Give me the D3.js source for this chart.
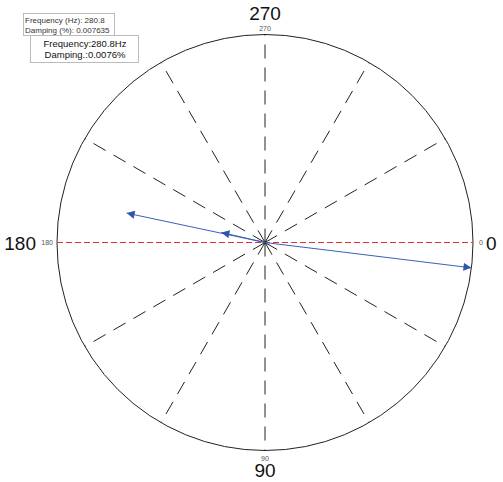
<!DOCTYPE html>
<html>
<head>
<meta charset="utf-8">
<script src="https://cdn.jsdelivr.net/npm/d3@7"></script>
<style>
  html, body { margin: 0; padding: 0; background: #fff; }
  svg { display: block; }
  text { font-family: "Liberation Sans", Arial, sans-serif; }
</style>
</head>
<body>
<svg id="chart" width="503" height="482"></svg>
<script>
// Mode shape vectors (angle in degrees, clockwise from 0 at the right; normalised magnitude)
const vectorAngles = [7, 192, 193];
const vectorMagnitudes = [1.0, 0.68, 0.215];

// Angular grid
const spokeAngles = [0, 30, 60, 90, 120, 150, 180, 210, 240, 270, 300, 330];
const axisLabels = ["0", "90", "180", "270"];
const axisLabelAngles = [0, 90, 180, 270];

// Mode annotations
const frequencyHz = 280.8;
const dampingPct = 0.007635;

const svg = d3.select("#chart");
const cx = 265, cy = 242.5, R = 208;

const rScale = d3.scaleLinear().domain([0, 1]).range([0, R]);
const toRad = d => d * Math.PI / 180;
const px = (a, m) => cx + rScale(m) * Math.cos(toRad(a));
const py = (a, m) => cy + rScale(m) * Math.sin(toRad(a));

// Outer circle
svg.append("circle")
  .attr("cx", cx).attr("cy", cy).attr("r", rScale(1))
  .attr("fill", "none").attr("stroke", "#222").attr("stroke-width", 1);

// Dashed spokes
svg.append("g").selectAll("line")
  .data(spokeAngles.filter(a => a !== 0 && a !== 180))
  .join("line")
  .attr("x1", cx).attr("y1", cy)
  .attr("x2", d => px(d, 1)).attr("y2", d => py(d, 1))
  .attr("stroke", "#222").attr("stroke-width", 1)
  .attr("stroke-dasharray", "14,9");

// Horizontal reference line (0 - 180)
svg.append("line")
  .attr("x1", px(180, 1)).attr("y1", py(180, 1))
  .attr("x2", px(0, 1)).attr("y2", py(0, 1))
  .attr("stroke", "#e03030").attr("stroke-width", 1.2)
  .attr("stroke-dasharray", "6,3");

// Arrowhead marker
svg.append("defs").append("marker")
  .attr("id", "arrow")
  .attr("viewBox", "0 0 10 10")
  .attr("refX", 10).attr("refY", 5)
  .attr("markerWidth", 10).attr("markerHeight", 8)
  .attr("markerUnits", "userSpaceOnUse")
  .attr("orient", "auto")
  .append("path")
  .attr("d", "M0,0 L10,5 L0,10 Z")
  .attr("fill", "#2f55b0");

// Vectors
svg.append("g").selectAll("line")
  .data(vectorAngles.map((a, i) => ({ a, m: vectorMagnitudes[i] })))
  .join("line")
  .attr("x1", cx).attr("y1", cy)
  .attr("x2", d => px(d.a, d.m)).attr("y2", d => py(d.a, d.m))
  .attr("stroke", "#3a60b8").attr("stroke-width", 1)
  .attr("marker-end", "url(#arrow)");

// Axis labels: small inside, large outside
const labels = axisLabels.map((t, i) => ({ t, a: axisLabelAngles[i] }));
svg.append("g").selectAll("text")
  .data(labels)
  .join("text")
  .attr("x", d => d.a === 0 ? px(0, 1) + 6 : d.a === 180 ? px(180, 1) - 4 : cx)
  .attr("y", d => d.a === 270 ? py(270, 1) - 4 : d.a === 90 ? py(90, 1) + 10 : cy + 2.5)
  .attr("text-anchor", d => d.a === 0 ? "start" : d.a === 180 ? "end" : "middle")
  .attr("font-size", 7)
  .attr("fill", "#555")
  .text(d => d.t);

svg.append("g").selectAll("text")
  .data(labels)
  .join("text")
  .attr("x", d => d.a === 0 ? px(0, 1) + 13 : d.a === 180 ? px(180, 1) - 21 : cx)
  .attr("y", d => d.a === 270 ? 20 : d.a === 90 ? 477 : cy + 7)
  .attr("text-anchor", d => d.a === 0 ? "start" : d.a === 180 ? "end" : "middle")
  .attr("font-size", 19)
  .attr("fill", "#111")
  .text(d => d.t);

// Annotation box: raw values
const g1 = svg.append("g");
g1.append("rect")
  .attr("x", 23.5).attr("y", 13.5).attr("width", 91).attr("height", 22)
  .attr("fill", "#fff").attr("stroke", "#bbb");
g1.append("text").attr("x", 25).attr("y", 23)
  .attr("font-size", 8).attr("fill", "#333")
  .text(`Frequency (Hz): ${frequencyHz}`);
g1.append("text").attr("x", 25).attr("y", 33)
  .attr("font-size", 8).attr("fill", "#333")
  .text(`Damping (%): ${dampingPct}`);

// Annotation box: rounded values
const g2 = svg.append("g");
g2.append("rect")
  .attr("x", 30.5).attr("y", 35.5).attr("width", 108).attr("height", 27)
  .attr("fill", "#fff").attr("stroke", "#bbb");
g2.append("text").attr("x", 85).attr("y", 47)
  .attr("text-anchor", "middle")
  .attr("font-size", 9.5).attr("fill", "#111")
  .text(`Frequency:${frequencyHz}Hz`);
g2.append("text").attr("x", 85).attr("y", 57.5)
  .attr("text-anchor", "middle")
  .attr("font-size", 9.5).attr("fill", "#111")
  .text(`Damping.:${dampingPct.toFixed(4)}%`);
</script>
</body>
</html>
